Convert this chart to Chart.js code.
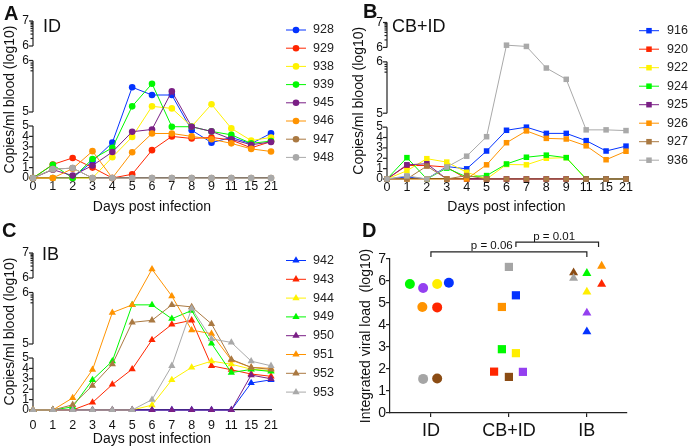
<!DOCTYPE html>
<html>
<head>
<meta charset="utf-8">
<script src="https://cdn.jsdelivr.net/npm/chart.js@4/dist/chart.umd.min.js"></script>
<style>
  body { margin: 0; background: #fff; width: 689px; height: 448px; position: relative; overflow: hidden;
         font-family: 'Liberation Sans', Arial, sans-serif; }
  .panel { position: absolute; }
  .letter { position: absolute; font-weight: bold; font-size: 20px; line-height: 20px; color: #111; }
</style>
</head>
<body>
<div class="panel" style="left:0;top:0;width:345px;height:216px"><canvas id="chartA"></canvas></div>
<div class="panel" style="left:340px;top:0;width:349px;height:216px"><canvas id="chartB"></canvas></div>
<div class="panel" style="left:0;top:230px;width:345px;height:218px"><canvas id="chartC"></canvas></div>
<div class="panel" style="left:340px;top:230px;width:349px;height:218px"><canvas id="chartD"></canvas></div>
<div class="letter" style="left:4px;top:3px">A</div>
<div class="letter" style="left:363px;top:1px">B</div>
<div class="letter" style="left:2px;top:220px">C</div>
<div class="letter" style="left:362px;top:220px">D</div>
<script>
// days post infection (x categories)
const days = ['0', '1', '2', '3', '4', '5', '6', '7', '8', '9', '11', '15', '21'];

// colours shared by the three time-course panels (legend order)
const seriesColors = ['#0433ff', '#ff2600', '#fff200', '#00f900', '#7a1f85', '#ff9300', '#aa7942', '#a9a9a9'];

// A: ID group, copies/ml (log10)
const idAnimals = ['928', '929', '938', '939', '945', '946', '947', '948'];
const id928 = [0, 0, 0, 1.6, 3.4, 5.48, 5.33, 5.33, 4.6, 3.4, 3.9, 3.3, 4.3];
const id929 = [0, 1.3, 1.93, 1.0, 0, 0.36, 2.68, 4.0, 3.8, 3.9, 3.65, 2.9, 3.5];
const id938 = [0, 0, 0, 0, 2.0, 3.95, 5.11, 5.07, 4.95, 5.15, 4.77, 3.6, 3.9];
const id939 = [0, 1.27, 0, 1.83, 2.9, 5.11, 5.55, 4.93, 4.93, 4.48, 4.15, 3.33, 3.55];
const id945 = [0, 0.8, 0.23, 1.2, 2.5, 4.45, 4.67, 5.4, 4.93, 4.48, 3.73, 3.2, 3.46];
const id946 = [0, 0, 0.9, 2.58, 0, 2.48, 4.28, 4.28, 4.0, 3.73, 3.33, 2.8, 2.55];
const id947 = [0, 0.85, 0.95, 0, 0, 0, 0, 0, 0, 0, 0, 0, 0];
const id948 = [0, 0.85, 0.95, 0, 0, 0, 0, 0, 0, 0, 0, 0, 0];

// B: CB+ID group
const cbAnimals = ['916', '920', '922', '924', '925', '926', '927', '936'];
const cb916 = [0, 0.2, 0, 1.2, 0.98, 2.7, 4.7, 5.0, 4.4, 4.4, 3.7, 2.7, 3.17];
const cb920 = [0, 1.3, 1.3, 1.15, 0, 0, 0, 0, 0, 0, 0, 0, 0];
const cb922 = [0, 0.8, 1.96, 1.63, 0.65, 0, 1.4, 1.37, 2.0, 2.06, 0, 0, 0];
const cb924 = [0, 2.06, 0, 1.05, 0.2, 0.33, 1.45, 2.1, 2.3, 2.06, 0, 0, 0];
const cb925 = [0, 1.37, 1.47, 0, 0, 0, 0, 0, 0, 0, 0, 0, 0];
const cb926 = [0, 0, 0, 0, 0, 1.37, 3.5, 4.64, 3.92, 3.86, 3.2, 1.86, 2.68];
const cb927 = [0, 0, 1.25, 0, 0.33, 0, 0, 0, 0, 0, 0, 0, 0];
const cb936 = [0, 0.3, 0, 1.15, 2.2, 4.08, 6.09, 6.04, 5.88, 5.66, 4.74, 4.74, 4.67];

// C: IB group
const ibAnimals = ['942', '943', '944', '949', '950', '951', '952', '953'];
const ib942 = [0, 0, 0, 0, 0, 0, 0, 0, 0, 0, 0, 2.6, 2.9];
const ib943 = [0, 0, 0, 0.72, 2.45, 3.93, 5.08, 5.38, 5.46, 4.25, 3.87, 3.46, 3.24];
const ib944 = [0, 0, 0, 0, 0, 0, 0.47, 2.9, 4.1, 4.7, 4.4, 3.93, 3.77];
const ib949 = [0, 0, 0.3, 2.9, 4.7, 5.76, 5.76, 5.49, 5.65, 5.01, 3.6, 3.9, 3.7];
const ib950 = [0, 0, 0, 0, 0, 0, 0, 0, 0, 0, 0, 3.36, 3.0];
const ib951 = [0, 0, 1.16, 3.87, 5.61, 5.76, 6.35, 5.93, 5.27, 5.2, 4.8, 4.1, 4.0];
const ib952 = [0, 0, 0.5, 2.35, 4.4, 5.42, 5.46, 5.76, 5.72, 5.39, 4.87, 4.1, 3.9];
const ib953 = [0, 0, 0, 0, 0, 0, 1.0, 4.25, 5.69, 5.1, 5.03, 4.7, 4.25];

// D: integrated viral load (log10), one value per animal, same order as legends
const groups = ['ID', 'CB+ID', 'IB'];
const idLoad = [5.92, 4.8, 5.86, 5.86, 5.68, 4.82, 1.57, 1.55];
const idJitter = [0.23, 0.08, 0.08, -0.27, -0.1, -0.11, 0.08, -0.1];
const cbLoad = [5.35, 1.88, 2.72, 2.9, 1.87, 4.82, 1.64, 6.64];
const cbJitter = [0.09, -0.19, 0.09, -0.09, 0.18, -0.09, 0, 0];
const ibLoad = [3.7, 5.86, 5.5, 6.35, 4.55, 6.68, 6.38, 6.13];
const ibJitter = [0, 0.19, 0, 0, 0, 0.19, -0.17, -0.17];
const dotColors = ['#0433ff', '#ff2600', '#ffee00', '#00f900', '#9440f0', '#ff9300', '#8b4c14', '#a5a5a5'];

// broken y axis: 0-5, 5-6, 6-7 drawn as separate pieces
const segments = [
  { lo: 0, hi: 5, start: 0, end: 52 },
  { lo: 5, hi: 6, start: 66, end: 117.5 },
  { lo: 6, hi: 7, start: 132, end: 157 }
];
const axisMax = 157;

function toAxis(v) {
  const s = v <= 5 ? segments[0] : (v <= 6 ? segments[1] : segments[2]);
  return s.start + (v - s.lo) / (s.hi - s.lo) * (s.end - s.start);
}

const yTicks = [];
for (let k = 0; k <= 5; k++) yTicks.push({ pos: segments[0].start + k / 5 * segments[0].end, label: String(k) });
segments.slice(1).forEach(s => {
  yTicks.push({ pos: s.start, label: String(s.lo) });
  yTicks.push({ pos: s.end, label: String(s.hi) });
});

const FONT = "'Liberation Sans', Arial, sans-serif";

function drawMarker(ctx, style, x, y, r, color) {
  ctx.fillStyle = color;
  ctx.beginPath();
  if (style === 'circle') {
    ctx.arc(x, y, r, 0, Math.PI * 2);
  } else if (style === 'rect') {
    const s = r * Math.SQRT1_2;
    ctx.rect(x - s, y - s, 2 * s, 2 * s);
  } else {
    const a = 2 * Math.PI / 3;
    ctx.moveTo(x, y - r);
    ctx.lineTo(x + r * Math.sin(a), y - r * Math.cos(a));
    ctx.lineTo(x - r * Math.sin(a), y - r * Math.cos(a));
  }
  ctx.closePath();
  ctx.fill();
}

// axis pieces, minor ticks, panel title and legend for the time-course panels
const lineDecor = {
  id: 'lineDecor',
  beforeDatasetsDraw(chart, args, opts) {
    const ctx = chart.ctx;
    const y = chart.scales.y;
    const x0 = chart.chartArea.left;
    ctx.save();
    ctx.strokeStyle = '#222';
    ctx.lineWidth = 1.2;
    const tick = (pos, len) => {
      const py = y.getPixelForValue(pos);
      ctx.beginPath(); ctx.moveTo(x0 - len, py); ctx.lineTo(x0, py); ctx.stroke();
    };
    segments.forEach((s, si) => {
      ctx.beginPath();
      ctx.moveTo(x0, y.getPixelForValue(s.start));
      ctx.lineTo(x0, y.getPixelForValue(s.end));
      ctx.stroke();
      tick(s.start, 4);
      tick(s.end, 4);
      const span = s.end - s.start;
      if (si === 0) {
        for (let k = 1; k < 5; k++) tick(s.start + k / 5 * span, 4);
      } else if (si === 1) {
        [0.8, 0.86, 0.91, 0.95].forEach(f => tick(s.start + f * span, 2.5));
      } else {
        for (let k = 2; k <= 9; k++) tick(s.start + Math.log10(k) * span, 2.5);
      }
    });
    ctx.restore();
  },
  afterDraw(chart, args, opts) {
    const ctx = chart.ctx;
    ctx.save();
    ctx.fillStyle = '#111';
    ctx.font = '18px ' + FONT;
    ctx.textBaseline = 'alphabetic';
    ctx.fillText(opts.title, opts.titleX, opts.titleY);
    ctx.font = '12.5px ' + FONT;
    ctx.textBaseline = 'middle';
    chart.data.datasets.forEach((ds, i) => {
      const ly = opts.legendY + i * opts.legendStep;
      ctx.strokeStyle = ds.borderColor;
      ctx.lineWidth = 1;
      ctx.beginPath(); ctx.moveTo(opts.legendX - 10, ly); ctx.lineTo(opts.legendX + 10, ly); ctx.stroke();
      drawMarker(ctx, ds.pointStyle, opts.legendX, ly, ds.pointRadius, ds.borderColor);
      ctx.fillStyle = '#222';
      ctx.fillText(ds.label, opts.textX, ly);
    });
    ctx.restore();
  }
};

function lineDatasets(names, series, style, radius) {
  return names.map((name, i) => ({
    label: name,
    data: series[i].map(toAxis),
    borderColor: seriesColors[i],
    backgroundColor: seriesColors[i],
    pointBackgroundColor: seriesColors[i],
    pointBorderWidth: 0,
    pointStyle: style,
    pointRadius: radius,
    borderWidth: 1,
    tension: 0,
    clip: false,
    order: names.length - i
  }));
}

function makeLineChart(id, cfg) {
  new Chart(document.getElementById(id), {
    type: 'line',
    data: { labels: days, datasets: lineDatasets(cfg.names, cfg.series, cfg.style, cfg.radius) },
    options: {
      responsive: true,
      maintainAspectRatio: false,
      animation: false,
      events: [],
      layout: { padding: { top: cfg.top, right: cfg.right, bottom: 0, left: 0 } },
      plugins: {
        legend: { display: false },
        tooltip: { enabled: false },
        lineDecor: cfg.decor
      },
      scales: {
        x: {
          type: 'category',
          offset: false,
          grid: { display: false, drawTicks: false },
          border: { display: true, color: '#222', width: 1.2 },
          ticks: { color: '#111', font: { size: 12.5, family: FONT }, padding: cfg.xPad, autoSkip: false, maxRotation: 0 },
          title: { display: true, text: 'Days post infection', color: '#111',
                   font: { size: 14, family: FONT }, padding: { top: cfg.xTitlePad, bottom: 0 } },
          afterFit(scale) { scale.height = cfg.xHeight; }
        },
        y: {
          min: 0,
          max: axisMax,
          grid: { display: false, drawTicks: false },
          border: { display: false },
          afterBuildTicks(scale) { scale.ticks = yTicks.map(t => ({ value: t.pos })); },
          ticks: { color: '#111', font: { size: 12, family: FONT }, padding: 4, autoSkip: false,
                   callback: (v, i) => yTicks[i].label },
          title: { display: true, text: 'Copies/ml blood (log10)', color: '#111',
                   font: { size: 14, family: FONT }, padding: { top: cfg.yTitlePad, bottom: 0 } },
          afterFit(scale) { scale.width = cfg.yWidth; }
        }
      }
    },
    plugins: [lineDecor]
  });
}

makeLineChart('chartA', {
  names: idAnimals, series: [id928, id929, id938, id939, id945, id946, id947, id948],
  style: 'circle', radius: 3.3,
  top: 21, right: 74, yWidth: 33, xHeight: 38, xPad: 1, xTitlePad: 6.5, yTitlePad: 1.5,
  decor: { title: 'ID', titleX: 43, titleY: 32, legendX: 296, textX: 313, legendY: 30, legendStep: 18.2 }
});
makeLineChart('chartB', {
  names: cbAnimals, series: [cb916, cb920, cb922, cb924, cb925, cb926, cb927, cb936],
  style: 'rect', radius: 3.9,
  top: 22.5, right: 63, yWidth: 47, xHeight: 37, xPad: 1, xTitlePad: 6.6, yTitlePad: 10.6,
  decor: { title: 'CB+ID', titleX: 52, titleY: 32, legendX: 309, textX: 327, legendY: 30.7, legendStep: 18.5 }
});
makeLineChart('chartC', {
  names: ibAnimals, series: [ib942, ib943, ib944, ib949, ib950, ib951, ib952, ib953],
  style: 'triangle', radius: 4.2,
  top: 23, right: 74, yWidth: 33, xHeight: 38, xPad: 8, xTitlePad: 2.6, yTitlePad: 1.6,
  decor: { title: 'IB', titleX: 42, titleY: 30, legendX: 296, textX: 313, legendY: 30.5, legendStep: 18.8 }
});

// D: significance brackets above the groups
const brackets = {
  id: 'brackets',
  afterDraw(chart) {
    const ctx = chart.ctx, xs = chart.scales.x, ys = chart.scales.y;
    const items = [
      { from: 0, to: 2, level: 7.32, drop: 7.09, label: 'p = 0.06', at: 0.78 },
      { from: 1.09, to: 2.15, level: 7.77, drop: 7.55, label: 'p = 0.01', at: 1.58 }
    ];
    ctx.save();
    ctx.strokeStyle = '#222';
    ctx.lineWidth = 1.2;
    ctx.fillStyle = '#111';
    ctx.font = '11.5px ' + FONT;
    ctx.textAlign = 'center';
    ctx.textBaseline = 'alphabetic';
    items.forEach(b => {
      const x1 = xs.getPixelForValue(b.from), x2 = xs.getPixelForValue(b.to);
      const yl = ys.getPixelForValue(b.level), yd = ys.getPixelForValue(b.drop);
      ctx.beginPath();
      ctx.moveTo(x1, yd); ctx.lineTo(x1, yl); ctx.lineTo(x2, yl); ctx.lineTo(x2, yd);
      ctx.stroke();
      ctx.fillText(b.label, xs.getPixelForValue(b.at), yl - 2.5);
    });
    ctx.restore();
  }
};

function groupPoints(loads, jitter, g) {
  return loads.map((v, i) => ({ x: g + jitter[i], y: v }));
}

new Chart(document.getElementById('chartD'), {
  type: 'scatter',
  data: {
    datasets: [
      { data: groupPoints(idLoad, idJitter, 0), pointStyle: 'circle', pointRadius: 5,
        pointBackgroundColor: dotColors, pointBorderWidth: 0, clip: false },
      { data: groupPoints(cbLoad, cbJitter, 1), pointStyle: 'rect', pointRadius: 5.8,
        pointBackgroundColor: dotColors, pointBorderWidth: 0, clip: false },
      { data: groupPoints(ibLoad, ibJitter, 2), pointStyle: 'triangle', pointRadius: 5.2,
        pointBackgroundColor: dotColors, pointBorderWidth: 0, clip: false }
    ]
  },
  options: {
    responsive: true,
    maintainAspectRatio: false,
    animation: false,
    events: [],
    layout: { padding: { top: 29, right: 62, bottom: 0, left: 0 } },
    plugins: { legend: { display: false }, tooltip: { enabled: false } },
    scales: {
      x: {
        type: 'linear',
        min: -0.525,
        max: 2.515,
        afterBuildTicks(scale) { scale.ticks = groups.map((g, i) => ({ value: i })); },
        grid: { display: true, drawOnChartArea: false, drawTicks: true, tickLength: 4, color: '#222', lineWidth: 1.2 },
        border: { display: true, color: '#222', width: 1.2 },
        ticks: { color: '#111', font: { size: 18, family: FONT }, padding: 3, autoSkip: false, maxRotation: 0,
                 callback: (v, i) => groups[i] },
        afterFit(scale) { scale.height = 35; }
      },
      y: {
        min: 0,
        max: 7,
        grid: { display: true, drawOnChartArea: false, drawTicks: true, tickLength: 4, color: '#222', lineWidth: 1.2 },
        border: { display: true, color: '#222', width: 1.2 },
        ticks: { stepSize: 1, color: '#111', font: { size: 14, family: FONT }, padding: 0 },
        title: { display: true, text: 'Integrated viral load  (log10)', color: '#111',
                 font: { size: 14, family: FONT }, padding: { top: 17.6, bottom: 0 } },
        afterFit(scale) { scale.width = 50; }
      }
    }
  },
  plugins: [brackets]
});
</script>
</body>
</html>
